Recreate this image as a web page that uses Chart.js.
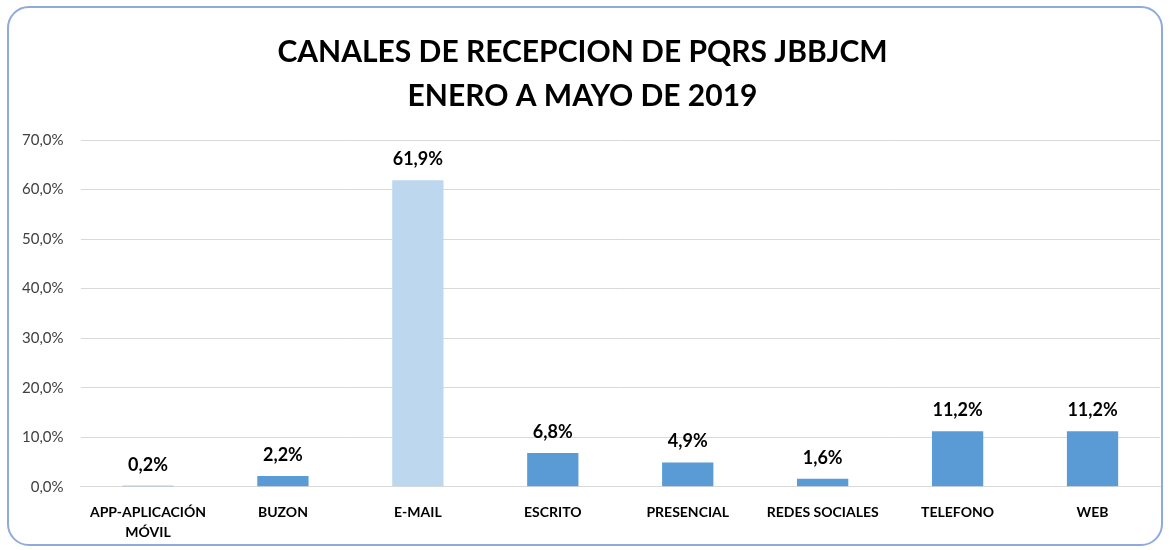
<!DOCTYPE html>
<html><head><meta charset="utf-8">
<script src="https://cdn.jsdelivr.net/npm/chart.js@4/dist/chart.umd.min.js"></script>
<style>
html,body{margin:0;padding:0;background:#fff;}
#wrap{position:absolute;left:7px;top:6px;width:1156px;height:540px;border:2px solid #8FAADC;border-radius:22px;box-sizing:border-box;overflow:hidden;}
#c{position:absolute;left:0;top:0;}
</style></head>
<body>
<div id="wrap"></div>
<canvas id="c" width="1170" height="550"></canvas>
<script>
const categories = [["APP-APLICACIÓN","MÓVIL"],"BUZON","E-MAIL","ESCRITO","PRESENCIAL","REDES SOCIALES","TELEFONO","WEB"];
const values = [0.002, 0.022, 0.619, 0.068, 0.049, 0.016, 0.112, 0.112];
const barColors = ["#5B9BD5","#5B9BD5","#BDD7EE","#5B9BD5","#5B9BD5","#5B9BD5","#5B9BD5","#5B9BD5"];
const titleLines = ["CANALES DE RECEPCION DE PQRS JBBJCM","ENERO A MAYO DE 2019"];
const yTicks = {min:0, max:0.7, step:0.1};

const fmt = (v, d) => (v*100).toFixed(d).replace('.', ',') + '%';

const labelPlugin = {
  id:'labels',
  afterDatasetsDraw(chart){
    const ctx = chart.ctx;
    const meta = chart.getDatasetMeta(0);
    ctx.save();
    ctx.font = 'bold 18px Lato';
    ctx.fillStyle = '#000';
    ctx.textAlign = 'center';
    ctx.textBaseline = 'middle';
    meta.data.forEach((bar,i)=>{
      ctx.fillText(fmt(values[i],1), bar.x, bar.y - 21);
    });
    ctx.restore();
  }
};

new Chart(document.getElementById('c'), {
  type:'bar',
  data:{labels:categories, datasets:[{data:values, backgroundColor:barColors, barPercentage:0.38, categoryPercentage:1}]},
  options:{
    responsive:false, animation:false,
    layout:{padding:{left:5,right:10,top:0,bottom:0}},
    plugins:{
      legend:{display:false},
      tooltip:{enabled:false},
      title:{display:true, text:titleLines, color:'#000', font:{family:'Lato', size:30, weight:'bold', lineHeight:1.45}, padding:{top:31,bottom:22}}
    },
    scales:{
      x:{grid:{display:false}, border:{display:true,color:'#D9D9D9',width:1},
         ticks:{color:'#000', font:{family:'Lato', size:14, weight:'bold', lineHeight:1.4}, padding:8, maxRotation:0, autoSkip:false}},
      y:{min:yTicks.min, max:yTicks.max, grid:{color:'#D9D9D9', drawTicks:false}, border:{display:false},
         ticks:{stepSize:yTicks.step, color:'#404040', font:{family:'Lato', size:15}, padding:17, callback:v=>fmt(v,1)}}
    }
  },
  plugins:[labelPlugin]
});
</script>
</body></html>
